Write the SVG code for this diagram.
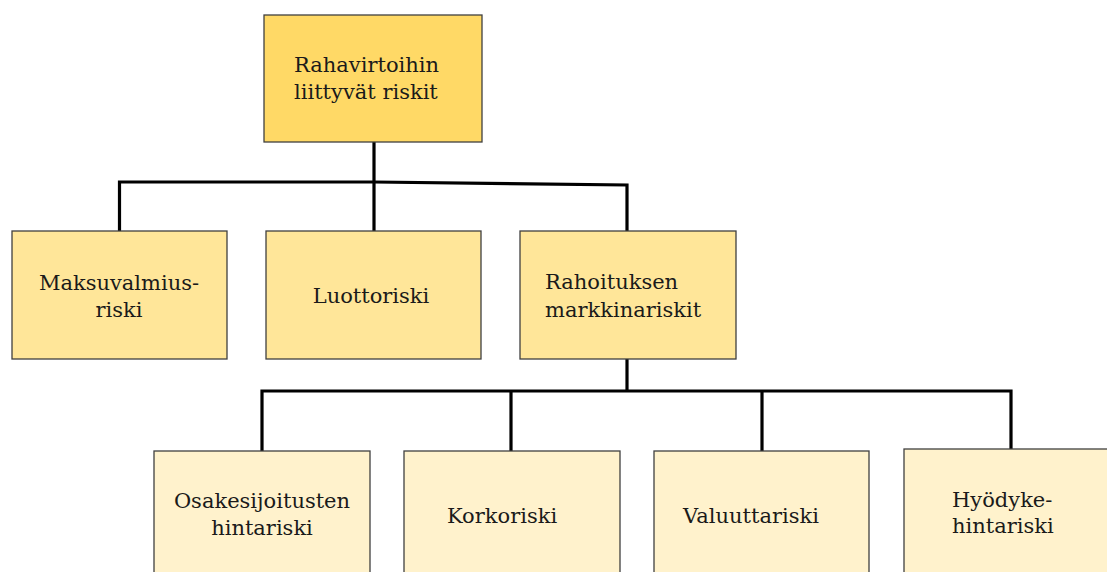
<svg xmlns="http://www.w3.org/2000/svg" width="1107" height="572" viewBox="0 0 1107 572">
<style>
.box{stroke:#404040;stroke-width:1.3}
.l0{fill:#FFD966}
.l1{fill:#FFE699}
.l2{fill:#FFF2CC}
.t{font-family:"DejaVu Serif","Liberation Serif",serif;font-size:21px;fill:#1a1a1a}
.c{text-anchor:middle}
.conn{fill:none;stroke:#000;stroke-width:3.2;stroke-linejoin:miter}
</style>
<rect width="1107" height="572" fill="#fff"/>
<g id="connectors">
<polyline class="conn" points="374,142 374,182"/>
<polyline class="conn" points="119.5,231 119.5,182 374,182 627,185 627,231"/>
<polyline class="conn" points="374,182 374,231"/>
<polyline class="conn" points="627,359 627,391"/>
<polyline class="conn" points="262,451 262,391 1011,391 1011,449"/>
<polyline class="conn" points="511,391 511,451"/>
<polyline class="conn" points="762,391 762,451"/>
</g>
<g id="n-root">
<rect class="box l0" x="264" y="15" width="218" height="127"/>
<text class="t" x="294" y="72">Rahavirtoihin</text>
<text class="t" x="294" y="99">liittyvät riskit</text>
</g>
<g id="n-maksuvalmius">
<rect class="box l1" x="12" y="231" width="215" height="128"/>
<text class="t c" x="119" y="290">Maksuvalmius-</text>
<text class="t c" x="119" y="317">riski</text>
</g>
<g id="n-luotto">
<rect class="box l1" x="266" y="231" width="215" height="128"/>
<text class="t c" x="371" y="303">Luottoriski</text>
</g>
<g id="n-rahoitus">
<rect class="box l1" x="520" y="231" width="216" height="128"/>
<text class="t" x="545" y="289">Rahoituksen</text>
<text class="t" x="545" y="317">markkinariskit</text>
</g>
<g id="n-osake">
<rect class="box l2" x="154" y="451" width="216" height="130"/>
<text class="t c" x="262" y="508">Osakesijoitusten</text>
<text class="t c" x="262" y="535">hintariski</text>
</g>
<g id="n-korko">
<rect class="box l2" x="404" y="451" width="216" height="130"/>
<text class="t" x="447" y="523">Korkoriski</text>
</g>
<g id="n-valuutta">
<rect class="box l2" x="654" y="451" width="215" height="130"/>
<text class="t" x="683" y="523">Valuuttariski</text>
</g>
<g id="n-hyodyke">
<rect class="box l2" x="904" y="449" width="216" height="132"/>
<text class="t" x="952" y="507">Hyödyke-</text>
<text class="t" x="952" y="533">hintariski</text>
</g>
</svg>
